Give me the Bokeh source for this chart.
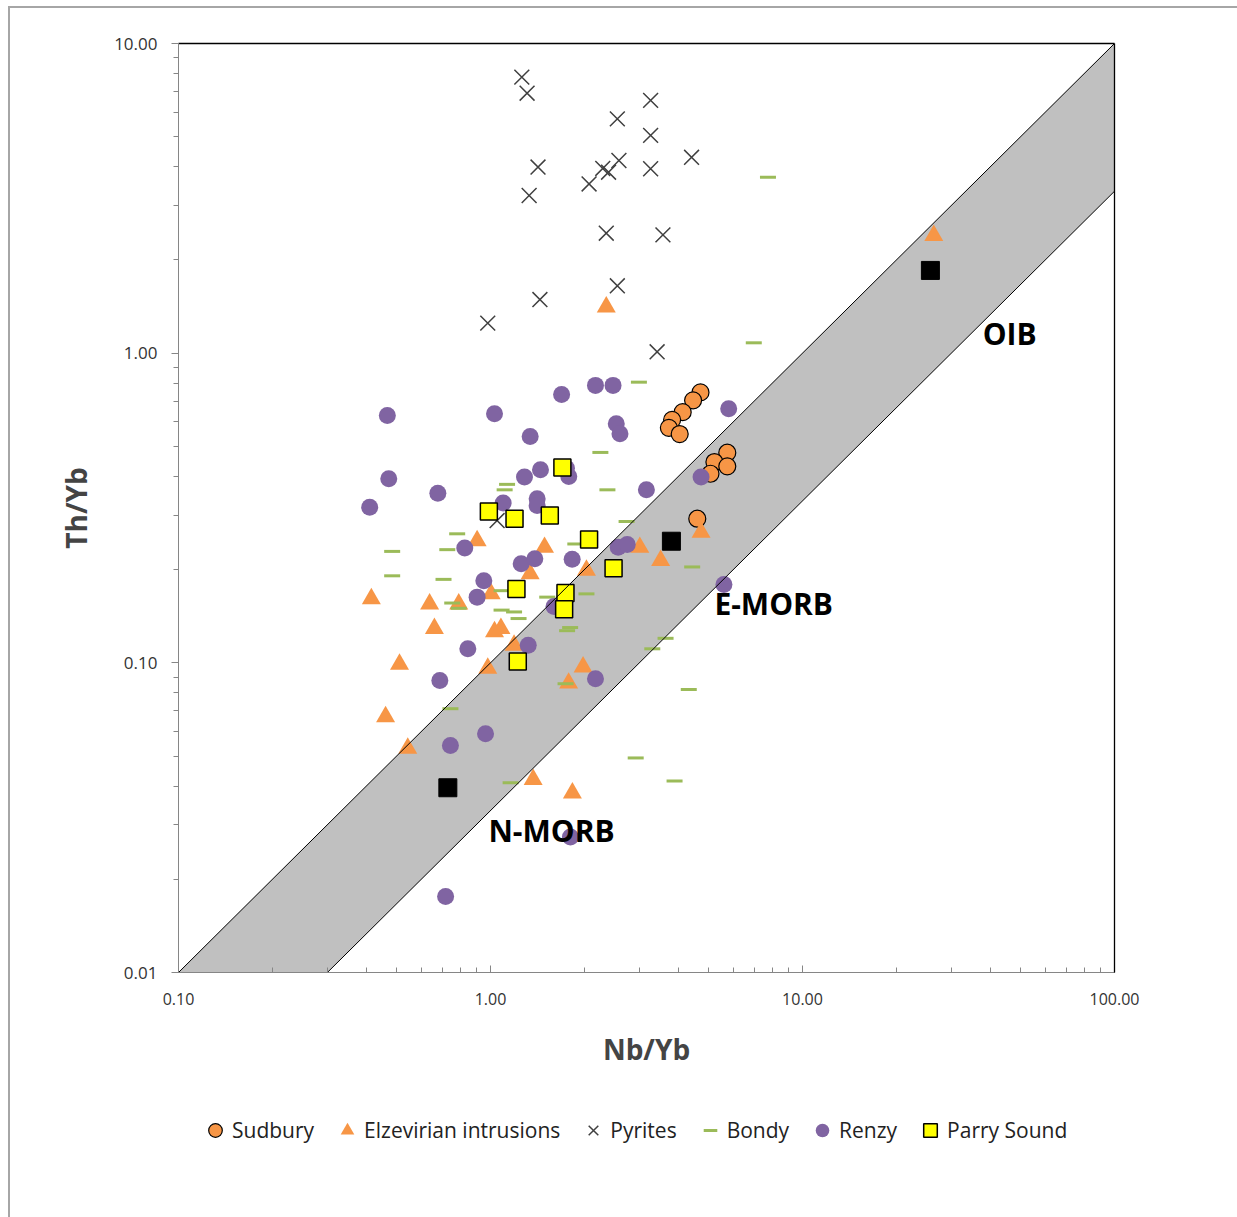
from bokeh.plotting import figure
from bokeh.layouts import column
from bokeh.models import (LogAxis, Legend, LegendItem, PrintfTickFormatter,
                          FixedTicker, Label, ColumnDataSource)
from bokeh.embed import file_html
from bokeh.resources import INLINE

# ---------------- data (Nb/Yb, Th/Yb) ----------------
sudbury_nb = [4.71, 4.46, 4.13, 3.82, 3.73, 4.04, 5.74, 5.22, 5.74, 5.07, 4.60]
sudbury_th = [0.747, 0.704, 0.645, 0.609, 0.574, 0.548, 0.477, 0.445, 0.431, 0.408, 0.292]

elzevirian_nb = [26.35, 2.35, 4.73, 3.01, 3.51, 2.03, 1.49, 0.906, 1.34, 0.415, 0.638, 0.791,
                 1.005, 0.661, 1.03, 1.08, 1.19, 0.511, 0.98, 1.98, 1.78, 0.461, 0.543, 1.37, 1.83]
elzevirian_th = [2.40, 1.41, 0.264, 0.236, 0.214, 0.199, 0.236, 0.248, 0.194, 0.161, 0.155, 0.155,
                 0.167, 0.129, 0.126, 0.129, 0.114, 0.099, 0.096, 0.097, 0.086, 0.067, 0.053, 0.042, 0.038]

pyrites_nb = [1.26, 1.31, 3.26, 2.55, 3.26, 1.42, 4.41, 3.26, 2.58, 2.39, 2.29, 2.07, 1.33, 2.35,
              3.57, 2.55, 1.44, 0.98, 3.42, 1.05]
pyrites_th = [7.79, 6.91, 6.55, 5.71, 5.05, 3.99, 4.29, 3.94, 4.19, 3.84, 3.95, 3.52, 3.23, 2.44,
              2.41, 1.65, 1.49, 1.25, 1.01, 0.288]

bondy_nb = [7.75, 6.98, 2.99, 2.25, 2.37, 1.13, 1.11, 2.73, 0.782, 0.484, 0.727, 1.87, 4.43, 0.484,
            0.707, 1.085, 1.52, 2.03, 0.754, 0.791, 1.085, 1.19, 1.23, 1.80, 1.76, 3.64, 3.30, 1.74,
            0.744, 4.32, 2.92, 1.16, 3.89]
bondy_th = [3.70, 1.08, 0.806, 0.478, 0.362, 0.377, 0.362, 0.286, 0.261, 0.229, 0.232, 0.242, 0.204,
            0.191, 0.186, 0.171, 0.163, 0.167, 0.156, 0.150, 0.148, 0.146, 0.139, 0.130, 0.127, 0.120,
            0.111, 0.0856, 0.0711, 0.082, 0.0493, 0.041, 0.0415]

renzy_nb = [0.467, 1.03, 1.69, 2.17, 2.47, 2.53, 2.60, 1.34, 0.472, 0.678, 0.410, 1.285, 1.446, 1.782,
            1.752, 3.16, 5.80, 4.73, 1.098, 1.411, 1.411, 0.827, 1.254, 1.387, 1.827, 2.566, 2.743,
            0.952, 0.906, 1.598, 0.846, 1.321, 0.688, 2.17, 0.964, 0.744, 1.804, 0.718, 5.60]
renzy_th = [0.629, 0.637, 0.736, 0.787, 0.787, 0.592, 0.549, 0.538, 0.393, 0.353, 0.318, 0.398, 0.420,
            0.400, 0.425, 0.362, 0.661, 0.398, 0.328, 0.339, 0.322, 0.235, 0.209, 0.217, 0.216, 0.236,
            0.241, 0.184, 0.163, 0.152, 0.111, 0.114, 0.0877, 0.0889, 0.059, 0.0541, 0.0274, 0.0176, 0.179]

parry_nb = [1.70, 0.988, 1.194, 1.549, 2.07, 2.48, 1.211, 1.739, 1.722, 1.223]
parry_th = [0.427, 0.308, 0.292, 0.299, 0.250, 0.202, 0.173, 0.168, 0.149, 0.101]

# reference compositions (N-MORB, E-MORB, OIB)
ref_nb = [0.73, 3.80, 25.7]
ref_th = [0.0395, 0.247, 1.85]
ref_names = ["N-MORB", "E-MORB", "OIB"]
ref_label_nb = [0.985, 5.22, 37.8]
ref_label_th = [0.0288, 0.1556, 1.16]

# MORB-OIB array bounds (Th/Nb ratios)
band_upper_ratio = 0.1
band_lower_ratio = 1.0 / 30.0
x_lo, x_hi = 0.1, 100.0
y_lo, y_hi = 0.01, 10.0

series_names = ["Sudbury", "Elzevirian intrusions", "Pyrites", "Bondy", "Renzy", "Parry Sound"]

# ---------------- styles ----------------
FONT = "Open Sans"
AXIS_GREY = "#868686"
styles = {
    "Sudbury": dict(marker="circle", size=17, fill_color="#F79646", line_color="black", line_width=1.2),
    "Elzevirian intrusions": dict(marker="triangle", size=19, fill_color="#F79646", line_color=None),
    "Pyrites": dict(marker="x", size=21, line_color="#404040", line_width=1.5),
    "Bondy": dict(marker="dash", size=16, line_color="#9BBB59", line_width=3),
    "Renzy": dict(marker="circle", size=17, fill_color="#8064A2", line_color=None),
    "Parry Sound": dict(marker="square", size=17, fill_color="#FFFF00", line_color="black", line_width=1.5),
}
series_data = {
    "Sudbury": (sudbury_nb, sudbury_th),
    "Elzevirian intrusions": (elzevirian_nb, elzevirian_th),
    "Pyrites": (pyrites_nb, pyrites_th),
    "Bondy": (bondy_nb, bondy_th),
    "Renzy": (renzy_nb, renzy_th),
    "Parry Sound": (parry_nb, parry_th),
}
sources = {nm: ColumnDataSource(dict(nb=series_data[nm][0], th=series_data[nm][1]))
           for nm in series_names}

# ---------------- main figure ----------------
p = figure(frame_width=936, frame_height=929, x_axis_type="log", y_axis_type="log",
           x_range=(x_lo, x_hi), y_range=(y_lo, y_hi),
           output_backend="svg", toolbar_location=None,
           min_border_left=168, min_border_right=123, min_border_top=35, min_border_bottom=110)
p.grid.visible = False
p.outline_line_color = None
p.background_fill_color = "white"
p.border_fill_color = "white"

# band (grey array)
band_x = [x_lo, x_hi, x_hi, y_lo / band_lower_ratio]
band_y = [x_lo * band_upper_ratio, x_hi * band_upper_ratio, x_hi * band_lower_ratio, y_lo]
p.patch(band_x, band_y, fill_color="#C0C0C0", line_color=None)

for nm in series_names:
    p.scatter("nb", "th", source=sources[nm], **styles[nm])
p.scatter(ref_nb, ref_th, marker="square", size=18, fill_color="black", line_color="black")

# band boundary lines on top
p.line([x_lo, x_hi], [x_lo * band_upper_ratio, x_hi * band_upper_ratio], line_color="black", line_width=1)
p.line([y_lo / band_lower_ratio, x_hi], [y_lo, x_hi * band_lower_ratio], line_color="black", line_width=1)

# labels
for nm, lx, ly in zip(ref_names, ref_label_nb, ref_label_th):
    p.add_layout(Label(x=lx, y=ly, text=nm, text_font=FONT, text_font_style="bold",
                       text_font_size="30px", text_color="black", text_baseline="middle",
                       text_align="left"))

# axes
fmt = PrintfTickFormatter(format="%.2f")
xa = p.xaxis[0]
xa.formatter = fmt
xa.axis_label = "Nb/Yb"
xa.axis_line_color = AXIS_GREY
xa.major_tick_line_color = AXIS_GREY
xa.minor_tick_line_color = AXIS_GREY
xa.major_tick_in = 7
xa.major_tick_out = 0
xa.minor_tick_in = 5
xa.minor_tick_out = 0
xa.major_label_standoff = 20
xa.major_label_text_font = FONT
xa.major_label_text_font_size = "16px"
xa.major_label_text_color = "#333333"
xa.axis_label_text_font = FONT
xa.axis_label_text_font_style = "bold"
xa.axis_label_text_font_size = "28px"
xa.axis_label_standoff = 22

ya = p.yaxis[0]
ya.formatter = fmt
ya.axis_label = "Th/Yb"
ya.axis_line_color = AXIS_GREY
ya.major_tick_line_color = AXIS_GREY
ya.minor_tick_line_color = AXIS_GREY
ya.major_tick_in = 0
ya.major_tick_out = 7
ya.minor_tick_in = 0
ya.minor_tick_out = 5
ya.major_label_standoff = 14
ya.major_label_text_font = FONT
ya.major_label_text_font_size = "17px"
ya.major_label_text_color = "#333333"
ya.axis_label_text_font = FONT
ya.axis_label_text_font_style = "bold"
ya.axis_label_text_font_size = "28px"
ya.axis_label_standoff = 16

for loc in ("above", "right"):
    ax = LogAxis(ticker=FixedTicker(ticks=[]), axis_line_color="black", axis_line_width=1.3,
                 major_tick_line_color=None, minor_tick_line_color=None,
                 major_label_text_font_size="0px")
    p.add_layout(ax, loc)

# ---------------- legend strip ----------------
leg = figure(width=1229, height=135, x_range=(0, 1), y_range=(0, 1),
             output_backend="svg", toolbar_location=None,
             x_axis_location=None, y_axis_location=None, min_border=0)
leg.grid.visible = False
leg.outline_line_color = None
leg.background_fill_color = "white"
leg.border_fill_color = "white"

items = []
for nm in series_names:
    # hidden renderers that only provide the legend keys
    r = leg.scatter("nb", "th", source=sources[nm], visible=False, **styles[nm])
    items.append(LegendItem(label=nm, renderers=[r]))

legend = Legend(items=items, orientation="horizontal", location=(20, 70),
                border_line_color=None, background_fill_alpha=0,
                inactive_fill_alpha=0, click_policy="none",
                label_text_font=FONT, label_text_font_size="21px", label_text_color="#222222",
                glyph_width=34, glyph_height=34, label_standoff=-2, spacing=16,
                margin=0, padding=0)
leg.add_layout(legend, "center")

layout = column(p, leg, spacing=0)
layout.margin = (6, 0, 0, 8)
layout.styles = {"border-left": "2px solid #a6a6a6", "border-top": "2px solid #a6a6a6"}

open("out.html", "w").write(file_html(layout, INLINE))
